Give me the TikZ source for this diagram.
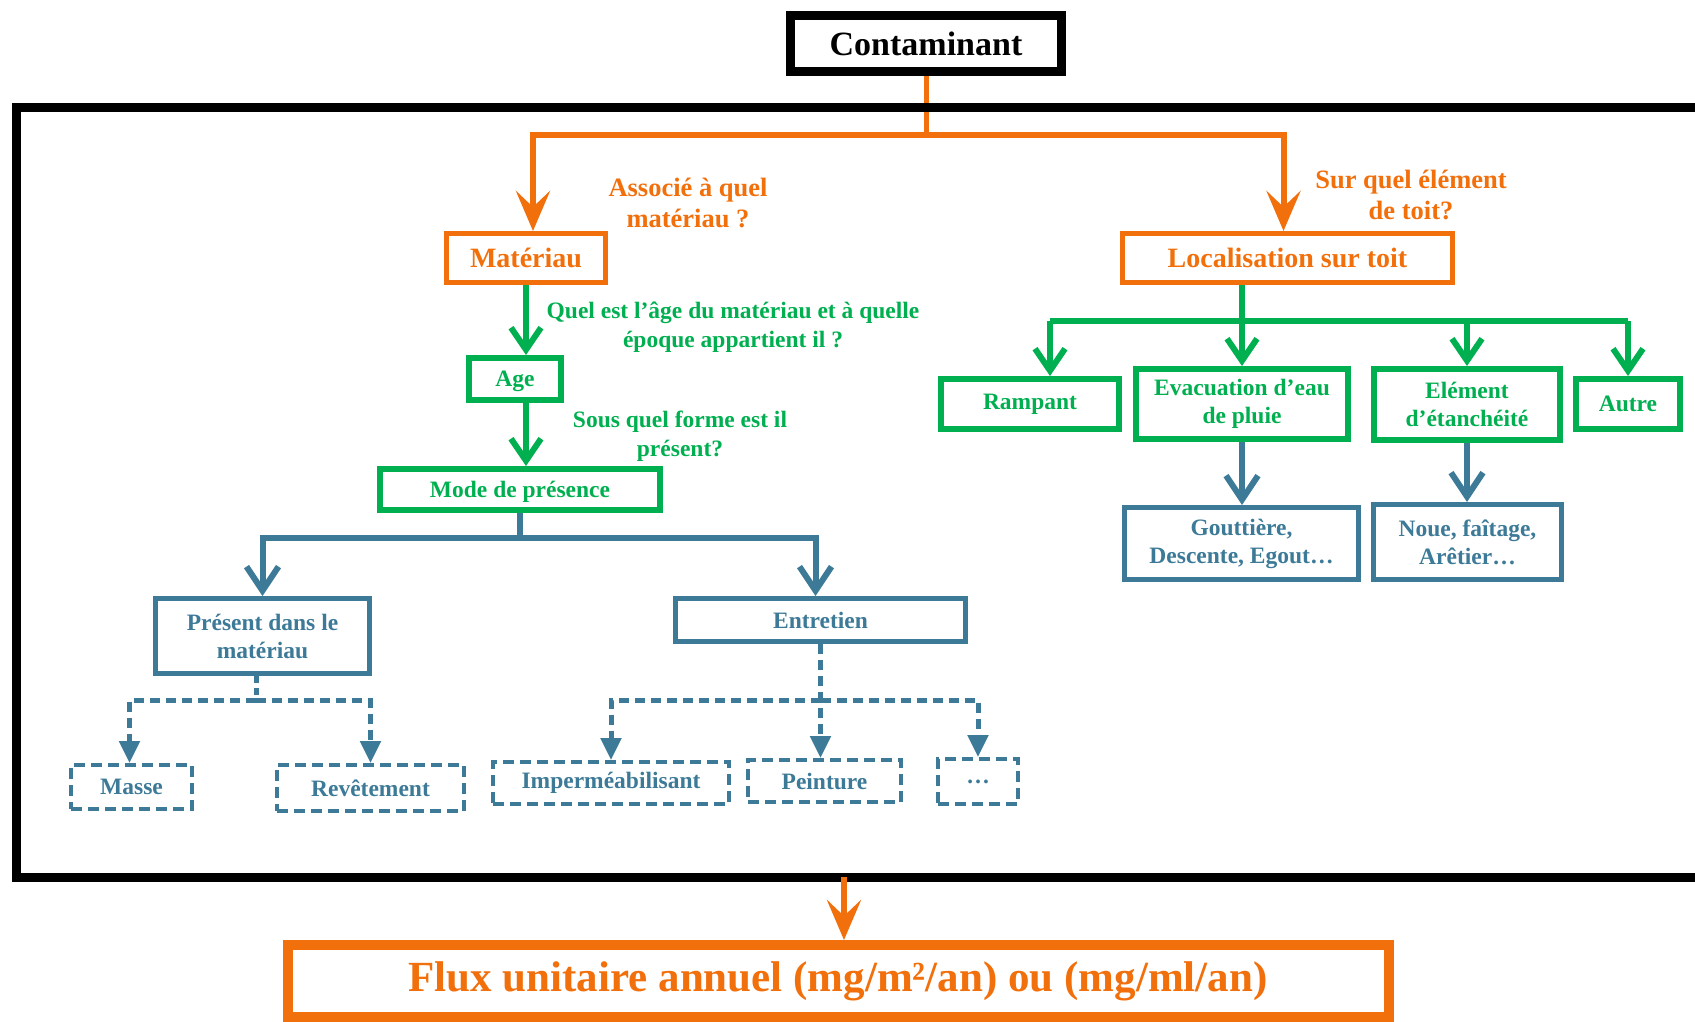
\documentclass[tikz,border=0pt]{standalone}
\usepackage{fontspec}
\setmainfont{Liberation Serif}
\usetikzlibrary{arrows.meta}
\definecolor{cOr}{RGB}{242,112,12}
\definecolor{cGr}{RGB}{0,176,80}
\definecolor{cBl}{RGB}{60,122,152}
\begin{document}
\begin{tikzpicture}[x=1pt,y=-1pt,
  every node/.style={align=center, inner sep=0pt, rectangle},
  obox/.style={draw=cOr, line width=5pt, text=cOr, font=\bfseries\fontsize{28}{32}\selectfont},
  gbox/.style={draw=cGr, line width=6pt, text=cGr, font=\bfseries\fontsize{23.5}{28}\selectfont},
  bbox/.style={draw=cBl, line width=5pt, text=cBl, font=\bfseries\fontsize{23.5}{28}\selectfont},
  dbox/.style={draw=cBl, line width=4pt, dash pattern=on 11pt off 6pt, text=cBl, font=\bfseries\fontsize{23.5}{28}\selectfont},
  olabel/.style={text=cOr, font=\bfseries\fontsize{26.5}{31}\selectfont},
  glabel/.style={text=cGr, font=\bfseries\fontsize{23.5}{29.5}\selectfont},
  oline/.style={draw=cOr, line width=6pt},
  oarrow/.style={draw=cOr, line width=6pt, -{Stealth[length=40pt,width=34pt,inset=16pt]}},
  garrow/.style={draw=cGr, line width=6pt, -{Straight Barb[length=22pt,width=30pt]}},
  gline/.style={draw=cGr, line width=6pt},
  bline/.style={draw=cBl, line width=6pt},
  barrow/.style={draw=cBl, line width=6pt, -{Straight Barb[length=24pt,width=32pt]}},
  dline/.style={draw=cBl, line width=5pt, dash pattern=on 7pt off 5pt},
  darrow/.style={draw=cBl, line width=5pt, dash pattern=on 10pt off 6pt, -{Triangle[length=22pt,width=20pt]}}
]
\useasboundingbox (0,0) rectangle (1695,1022);
\clip (0,0) rectangle (1695,1022);
\fill[white] (0,0) rectangle (1695,1022);

% nodes
\node[draw=black, line width=9pt, minimum width=271pt, minimum height=56pt, font=\bfseries\fontsize{34}{38}\selectfont] (cont) at (926,43.5) {Contaminant};
\node[obox, minimum width=159pt, minimum height=49pt] (mat) at (526,258) {Matériau};
\node[obox, minimum width=330pt, minimum height=49pt] (loc) at (1287.5,258) {Localisation sur toit};
\node[gbox, minimum width=92pt, minimum height=42pt, text depth=0pt] (age) at (515,379) {Age};
\node[gbox, minimum width=280pt, minimum height=41pt, text depth=0pt] (mode) at (520,489.5) {Mode de présence};
\node[bbox, minimum width=214pt, minimum height=75pt] (pres) at (262.5,636) {Présent dans le\\matériau};
\node[bbox, minimum width=290pt, minimum height=43pt] (entr) at (820.5,620) {Entretien};
\node[dbox, minimum width=121pt, minimum height=44pt] (masse) at (131.5,787) {Masse};
\node[dbox, minimum width=187pt, minimum height=46pt] (revet) at (370.5,788) {Revêtement};
\node[dbox, minimum width=236pt, minimum height=42pt] (imper) at (611,783) {Imperméabilisant};
\node[dbox, minimum width=153pt, minimum height=42pt] (peint) at (824.5,781) {Peinture};
\node[dbox, minimum width=80pt, minimum height=45pt] (etc) at (978,781.5) {…};
\node[gbox, minimum width=178pt, minimum height=50pt] (ramp) at (1030,404) {Rampant};
\node[gbox, minimum width=212pt, minimum height=70pt] (evac) at (1242,404) {Evacuation d’eau\\de pluie};
\node[gbox, minimum width=186pt, minimum height=71pt] (elem) at (1467,404.5) {Elément\\d’étanchéité};
\node[gbox, minimum width=104pt, minimum height=50pt] (autre) at (1628,404) {Autre};
\node[bbox, minimum width=234pt, minimum height=72pt] (gout) at (1241.5,543.5) {Gouttière,\\Descente, Egout…};
\node[bbox, minimum width=188pt, minimum height=75pt] (noue) at (1467.5,542) {Noue, faîtage,\\Arêtier…};
\node[draw=cOr, line width=10pt, minimum width=1101pt, minimum height=72pt, text=cOr, font=\bfseries\fontsize{43}{48}\selectfont] (flux) at (838,981) {Flux unitaire annuel (mg/m²/an) ou (mg/ml/an)};

% labels
\node[olabel] (q1) at (688,203) {Associé à quel\\matériau ?};
\node[olabel] (q2) at (1411,195) {Sur quel élément\\de toit?};
\node[glabel] (q3) at (733,327) {Quel est l’âge du matériau et à quelle\\époque appartient il ?};
\node[glabel] (q4) at (680,436) {Sous quel forme est il\\présent?};

% orange connectors
\coordinate (oj) at (926,135);
\draw[oline, line width=5pt] (cont.south) -- (oj);
\draw[oarrow] (oj) -| ([xshift=7pt]mat.north);
\draw[oarrow] (oj) -| ([xshift=-4pt]loc.north);

% frame
\draw[line width=9pt] (16,108) rectangle (1740,877);
\coordinate (fb) at (844,877);
\draw[oarrow] (fb) -- (fb |- flux.north);

% green left
\draw[garrow] (mat.south) -- (mat.south |- age.north);
\draw[garrow] (mat.south |- age.south) -- (mat.south |- mode.north);

% blue left
\coordinate (mj) at (520,538);
\draw[bline] (mode.south) -- (mj);
\draw[barrow] (mj) -| (pres.north);
\draw[barrow] (mj) -| ([xshift=-5pt]entr.north);

% dashed
\coordinate (pj) at (256,700);
\draw[dline] (pres.south -| pj) -- (pj);
\draw[darrow] (pj) -| ([xshift=-2pt]masse.north);
\draw[darrow] (pj) -| (revet.north);
\coordinate (ej) at (820.5,700);
\draw[darrow] (entr.south) -- (entr.south |- peint.north);
\draw[darrow] (ej) -| (imper.north);
\draw[darrow] (ej) -| (etc.north);

% green right
\coordinate (lj) at (1242,321);
\coordinate (rj) at (1050,321);
\draw[gline] (loc.south -| evac.north) -- (lj);
\draw[gline] (rj) -- (lj -| autre.north);
\draw[garrow] (lj) -- (evac.north);
\draw[garrow] (rj) -- (rj |- ramp.north);
\draw[garrow] (lj -| elem.north) -- (elem.north);
\draw[garrow] (lj -| autre.north) -- (autre.north);

% blue right
\draw[barrow] (evac.south) -- (evac.south |- gout.north);
\draw[barrow] (elem.south) -- (elem.south |- noue.north);
\end{tikzpicture}
\end{document}
